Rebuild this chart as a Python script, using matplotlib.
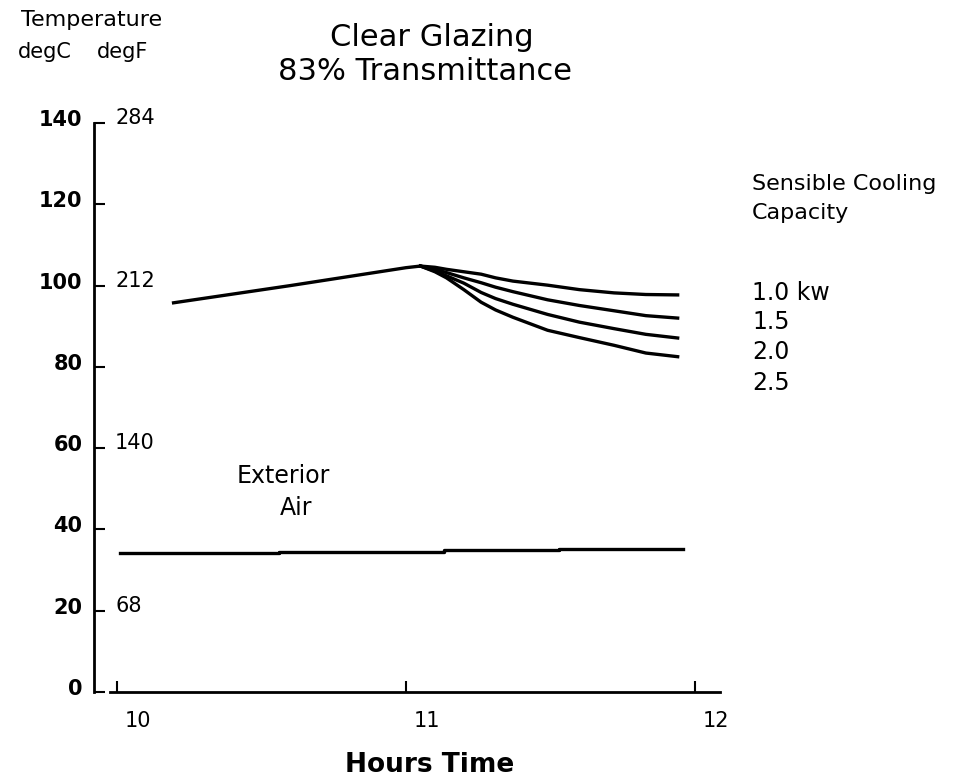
import matplotlib
matplotlib.use("Agg")
import matplotlib.pyplot as plt
import matplotlib.transforms as mtransforms

# ---------------- data ----------------
common_hours = [10.19, 10.40, 10.60, 10.80, 11.00, 11.05]
common_temp = [95.7, 97.9, 100.0, 102.2, 104.4, 104.8]

branch_hours = [11.05, 11.10, 11.14, 11.20, 11.26, 11.31, 11.37, 11.49, 11.60, 11.72, 11.83, 11.94]
cap_1_0 = [104.8, 104.5, 104.0, 103.4, 102.8, 101.9, 101.1, 100.1, 99.0, 98.2, 97.8, 97.7]
cap_1_5 = [104.8, 104.0, 103.2, 101.9, 100.7, 99.6, 98.5, 96.5, 95.1, 93.8, 92.6, 92.0]
cap_2_0 = [104.8, 103.6, 102.4, 100.6, 98.3, 96.8, 95.4, 92.9, 91.0, 89.4, 88.0, 87.1]
cap_2_5 = [104.8, 103.4, 101.9, 99.0, 95.9, 94.0, 92.2, 89.0, 87.2, 85.3, 83.4, 82.5]
capacity_labels = ["1.0 kw", "1.5", "2.0", "2.5"]

ext_hours = [10.01, 10.56, 11.13, 11.53, 11.96]
ext_temp = [34.2, 34.5, 34.9, 35.2, 35.2]

x_ticks = [10, 11, 12]
x_tick_labels = ["10", "11", "12"]
c_ticks = [0, 20, 40, 60, 80, 100, 120, 140]
c_tick_labels = ["0", "20", "40", "60", "80", "100", "120", "140"]
f_ticks_c = [20, 60, 100, 140]
f_tick_labels = ["68", "140", "212", "284"]

# ---------------- figure ----------------
W, H = 971, 777
fig = plt.figure(figsize=(W / 100, H / 100), dpi=100)
plt.rcParams['font.family'] = ['DejaVu Sans']

def fx(px):
    return px / W

def fy(py):
    return 1 - py / H

left_px, right_px, top_px, bot_px = 93.5, 720, 123, 692
ax = fig.add_axes([fx(left_px), fy(bot_px), fx(right_px) - fx(left_px), fy(top_px) - fy(bot_px)])

px_per_hour = (695 - 117) / 2.0
xmin = 10 - (117 - left_px) / px_per_hour
xmax = 10 + (right_px - 117) / px_per_hour
ax.set_xlim(xmin, xmax)
ax.set_ylim(0, 140)

lw = 2.4
ax.plot(common_hours, common_temp, color="black", lw=lw, solid_capstyle="butt")
for series in (cap_1_0, cap_1_5, cap_2_0, cap_2_5):
    ax.plot(branch_hours, series, color="black", lw=lw, solid_joinstyle="round")
ax.plot(ext_hours, ext_temp, color="black", lw=lw, drawstyle="steps-post")

for s in ("top", "right"):
    ax.spines[s].set_visible(False)
ax.spines["left"].set_linewidth(2.0)
ax.spines["bottom"].set_linewidth(2.0)
ax.spines["left"].set_bounds(0, 140)
ax.spines["bottom"].set_bounds(10 - (117 - 110) / px_per_hour, xmax)

ax.set_yticks(c_ticks)
ax.set_yticklabels(c_tick_labels, fontsize=15, fontweight="bold")
ax.set_xticks(x_ticks)
ax.set_xticklabels(x_tick_labels, fontsize=15)
ax.tick_params(axis="y", direction="in", length=8, width=1.5, pad=8)
ax.tick_params(axis="x", direction="in", length=8, width=1.5, pad=14)

up = mtransforms.ScaledTranslation(0, 5 / 100, fig.dpi_scale_trans)
for lab in ax.get_yticklabels():
    lab.set_transform(lab.get_transform() + up)
right_shift = mtransforms.ScaledTranslation(21 / 100, 0, fig.dpi_scale_trans)
for lab in ax.get_xticklabels():
    lab.set_transform(lab.get_transform() + right_shift)

# degF labels inside the axis, to the right of the spine
blend = mtransforms.blended_transform_factory(ax.transAxes, ax.transData)
for c, lab in zip(f_ticks_c, f_tick_labels):
    ax.text((115 - left_px) / (right_px - left_px), c, lab, transform=blend + up,
            ha="left", va="center", fontsize=15)

# annotations in data coordinates
ax.text(10.574, 53.1, "Exterior", ha="center", va="center", fontsize=17)
ax.text(10.62, 45.3, "Air", ha="center", va="center", fontsize=17)

# header texts
fig.text(fx(92), fy(20), "Temperature", ha="center", va="center", fontsize=16)
fig.text(fx(45), fy(52), "degC", ha="center", va="center", fontsize=15)
fig.text(fx(123), fy(52), "degF", ha="center", va="center", fontsize=15)
fig.text(fx(432), fy(38), "Clear Glazing", ha="center", va="center", fontsize=22)
fig.text(fx(425), fy(72), "83% Transmittance", ha="center", va="center", fontsize=22)

fig.text(fx(752), fy(184), "Sensible Cooling", ha="left", va="center", fontsize=16)
fig.text(fx(752), fy(213), "Capacity", ha="left", va="center", fontsize=16)
for lab, py in zip(capacity_labels, [293, 322, 352, 383]):
    fig.text(fx(752), fy(py), lab, ha="left", va="center", fontsize=17)

fig.text(fx(430), fy(765), "Hours Time", ha="center", va="center", fontsize=19, fontweight="bold")

fig.savefig("out.png", dpi=100)
